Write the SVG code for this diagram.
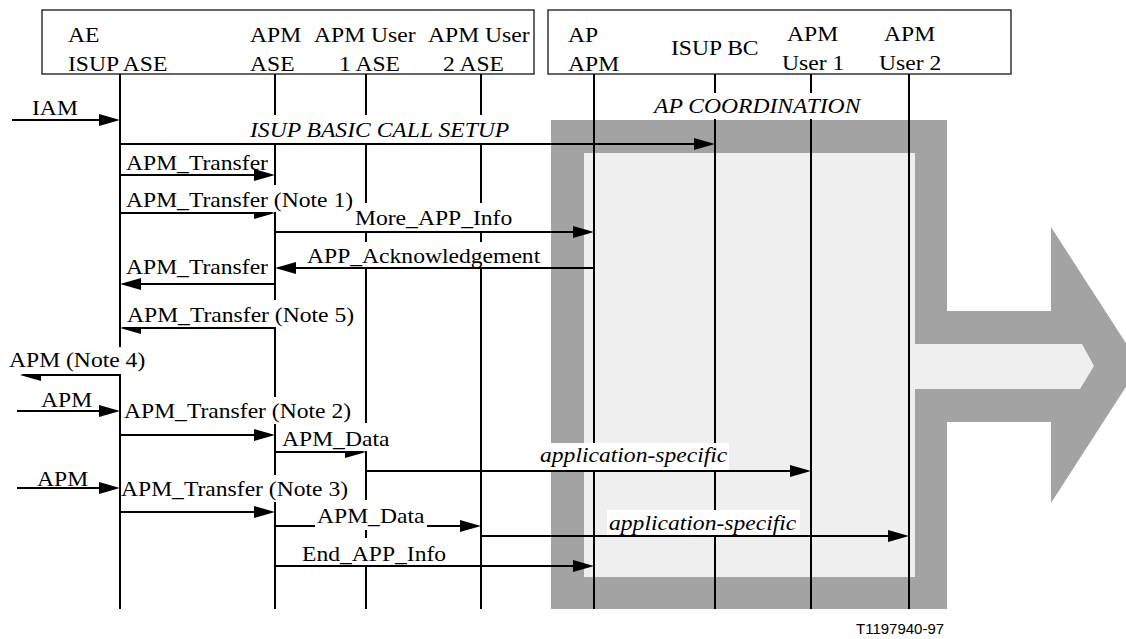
<svg xmlns="http://www.w3.org/2000/svg" xmlns:xlink="http://www.w3.org/1999/xlink" width="1126" height="639" viewBox="0 0 1126 639">
<style>
.t{font-family:"Liberation Serif","Times New Roman",serif;font-size:20px;fill:#000}
.i{font-style:italic}
.box{fill:#fff;stroke:#333;stroke-width:1.5}
.ll{stroke:#000;stroke-width:2;fill:none}
.msg{stroke:#000;stroke-width:2;fill:none}
.bg{fill:#fff}
.gray{fill:#a3a3a3}
.light{fill:#efefef}
</style>
<defs>
<path id="ah" d="M0,0 L-21,-6 L-21,6 Z" fill="#000"/>
</defs>
<rect width="1126" height="639" fill="#fff"/>

<g id="ap-coordination-frame">
<rect class="gray" x="551" y="120" width="396" height="489"/>
<polygon class="gray" points="940,311 1051,311 1051,227 1140,365 1051,503 1051,422 940,422"/>
<rect class="light" x="584" y="153" width="331" height="424"/>
<polygon class="light" points="910,344 1082,344 1094,366 1080,389 910,389"/>
</g>

<g id="box-ase"><rect class="box" x="42" y="10" width="492" height="64"/></g>
<g id="box-ap"><rect class="box" x="548" y="10" width="463" height="64"/></g>

<g id="node-ae-isup-ase">
<text class="t" transform="translate(68,42) scale(1.18,1)">AE</text>
<text class="t" transform="translate(68,71) scale(1.18,1)">ISUP ASE</text>
<line class="ll" x1="120" y1="74" x2="120" y2="609"/>
</g>
<g id="node-apm-ase">
<text class="t" transform="translate(250,42) scale(1.18,1)">APM</text>
<text class="t" transform="translate(250,71) scale(1.18,1)">ASE</text>
<line class="ll" x1="275" y1="74" x2="275" y2="609"/>
</g>
<g id="node-apm-user1-ase">
<text class="t" transform="translate(314,42) scale(1.18,1)">APM User</text>
<text class="t" transform="translate(339,71) scale(1.18,1)">1 ASE</text>
<line class="ll" x1="366" y1="74" x2="366" y2="609"/>
</g>
<g id="node-apm-user2-ase">
<text class="t" transform="translate(428,42) scale(1.18,1)">APM User</text>
<text class="t" transform="translate(443,71) scale(1.18,1)">2 ASE</text>
<line class="ll" x1="481" y1="74" x2="481" y2="609"/>
</g>
<g id="node-ap-apm">
<text class="t" transform="translate(568,42) scale(1.18,1)">AP</text>
<text class="t" transform="translate(568,71) scale(1.18,1)">APM</text>
<line class="ll" x1="594" y1="74" x2="594" y2="609"/>
</g>
<g id="node-isup-bc">
<text class="t" transform="translate(671,55) scale(1.18,1)">ISUP BC</text>
<line class="ll" x1="715" y1="74" x2="715" y2="609"/>
</g>
<g id="node-apm-user1">
<text class="t" transform="translate(787,41) scale(1.18,1)">APM</text>
<text class="t" transform="translate(782,70) scale(1.18,1)">User 1</text>
<line class="ll" x1="811" y1="74" x2="811" y2="609"/>
</g>
<g id="node-apm-user2">
<text class="t" transform="translate(884,41) scale(1.18,1)">APM</text>
<text class="t" transform="translate(879,70) scale(1.18,1)">User 2</text>
<line class="ll" x1="909" y1="74" x2="909" y2="609"/>
</g>

<g id="connectors">
<line class="msg" x1="12" y1="120" x2="110" y2="120"/><use xlink:href="#ah" transform="translate(120,120)"/>
<line class="msg" x1="120" y1="144" x2="705" y2="144"/><use xlink:href="#ah" transform="translate(715,144)"/>
<line class="msg" x1="120" y1="175" x2="265" y2="175"/><use xlink:href="#ah" transform="translate(275,175)"/>
<line class="msg" x1="120" y1="213" x2="265" y2="213"/><use xlink:href="#ah" transform="translate(275,213)"/>
<line class="msg" x1="275" y1="232" x2="584" y2="232"/><use xlink:href="#ah" transform="translate(594,232)"/>
<line class="msg" x1="594" y1="268" x2="285" y2="268"/><use xlink:href="#ah" transform="translate(275,268) scale(-1,1)"/>
<line class="msg" x1="275" y1="284" x2="130" y2="284"/><use xlink:href="#ah" transform="translate(120,284) scale(-1,1)"/>
<line class="msg" x1="275" y1="328" x2="130" y2="328"/><use xlink:href="#ah" transform="translate(120,328) scale(-1,1)"/>
<line class="msg" x1="120" y1="375" x2="30" y2="375"/><use xlink:href="#ah" transform="translate(20,375) scale(-1,1)"/>
<line class="msg" x1="17" y1="411" x2="110" y2="411"/><use xlink:href="#ah" transform="translate(120,411)"/>
<line class="msg" x1="120" y1="435" x2="265" y2="435"/><use xlink:href="#ah" transform="translate(275,435)"/>
<line class="msg" x1="275" y1="452" x2="356" y2="452"/><use xlink:href="#ah" transform="translate(366,452)"/>
<line class="msg" x1="366" y1="471" x2="801" y2="471"/><use xlink:href="#ah" transform="translate(811,471)"/>
<line class="msg" x1="17" y1="488" x2="110" y2="488"/><use xlink:href="#ah" transform="translate(120,488)"/>
<line class="msg" x1="120" y1="512" x2="265" y2="512"/><use xlink:href="#ah" transform="translate(275,512)"/>
<line class="msg" x1="275" y1="526" x2="471" y2="526"/><use xlink:href="#ah" transform="translate(481,526)"/>
<line class="msg" x1="481" y1="536" x2="899" y2="536"/><use xlink:href="#ah" transform="translate(909,536)"/>
<line class="msg" x1="275" y1="566" x2="584" y2="566"/><use xlink:href="#ah" transform="translate(594,566)"/>
</g>

<g id="labels">
<text class="t" transform="translate(32,115) scale(1.18,1)">IAM</text>
<rect class="bg" x="652" y="93" width="213" height="26"/>
<text class="t i" transform="translate(654,113) scale(1.18,1)">AP COORDINATION</text>
<rect class="bg" x="248" y="115" width="263" height="28"/>
<text class="t i" transform="translate(250,137) scale(1.18,1)">ISUP BASIC CALL SETUP</text>
<text class="t" transform="translate(126,170) scale(1.18,1)">APM_Transfer</text>
<rect class="bg" x="124" y="185" width="232" height="27"/>
<text class="t" transform="translate(126,207) scale(1.18,1)">APM_Transfer (Note 1)</text>
<rect class="bg" x="352" y="203" width="165" height="28"/>
<text class="t" transform="translate(355,225) scale(1.18,1)">More_APP_Info</text>
<rect class="bg" x="305" y="242" width="238" height="25"/>
<text class="t" transform="translate(307,263) scale(1.18,1)">APP_Acknowledgement</text>
<text class="t" transform="translate(126,274) scale(1.18,1)">APM_Transfer</text>
<rect class="bg" x="124" y="300" width="232" height="27"/>
<text class="t" transform="translate(127,322) scale(1.18,1)">APM_Transfer (Note 5)</text>
<rect class="bg" x="7" y="347" width="140" height="27"/>
<text class="t" transform="translate(9,367) scale(1.18,1)">APM (Note 4)</text>
<text class="t" transform="translate(41,407) scale(1.18,1)">APM</text>
<rect class="bg" x="122" y="397" width="234" height="27"/>
<text class="t" transform="translate(124,418) scale(1.18,1)">APM_Transfer (Note 2)</text>
<rect class="bg" x="280" y="423" width="109" height="28"/>
<text class="t" transform="translate(282,446) scale(1.18,1)">APM_Data</text>
<rect class="bg" x="538" y="443" width="191" height="27"/>
<text class="t i" transform="translate(540,462) scale(1.18,1)">application-specific</text>
<text class="t" transform="translate(37,486) scale(1.18,1)">APM</text>
<rect class="bg" x="122" y="475" width="230" height="27"/>
<text class="t" transform="translate(121,496) scale(1.18,1)">APM_Transfer (Note 3)</text>
<rect class="bg" x="315" y="500" width="112" height="30"/>
<text class="t" transform="translate(317,523) scale(1.18,1)">APM_Data</text>
<rect class="bg" x="607" y="510" width="193" height="25"/>
<text class="t i" transform="translate(609,530) scale(1.18,1)">application-specific</text>
<rect class="bg" x="300" y="538" width="148" height="27"/>
<text class="t" transform="translate(302,561) scale(1.18,1)">End_APP_Info</text>
<text x="856" y="634" style="font-family:'Liberation Sans',Arial,sans-serif;font-size:15px">T1197940-97</text>
</g>
</svg>
